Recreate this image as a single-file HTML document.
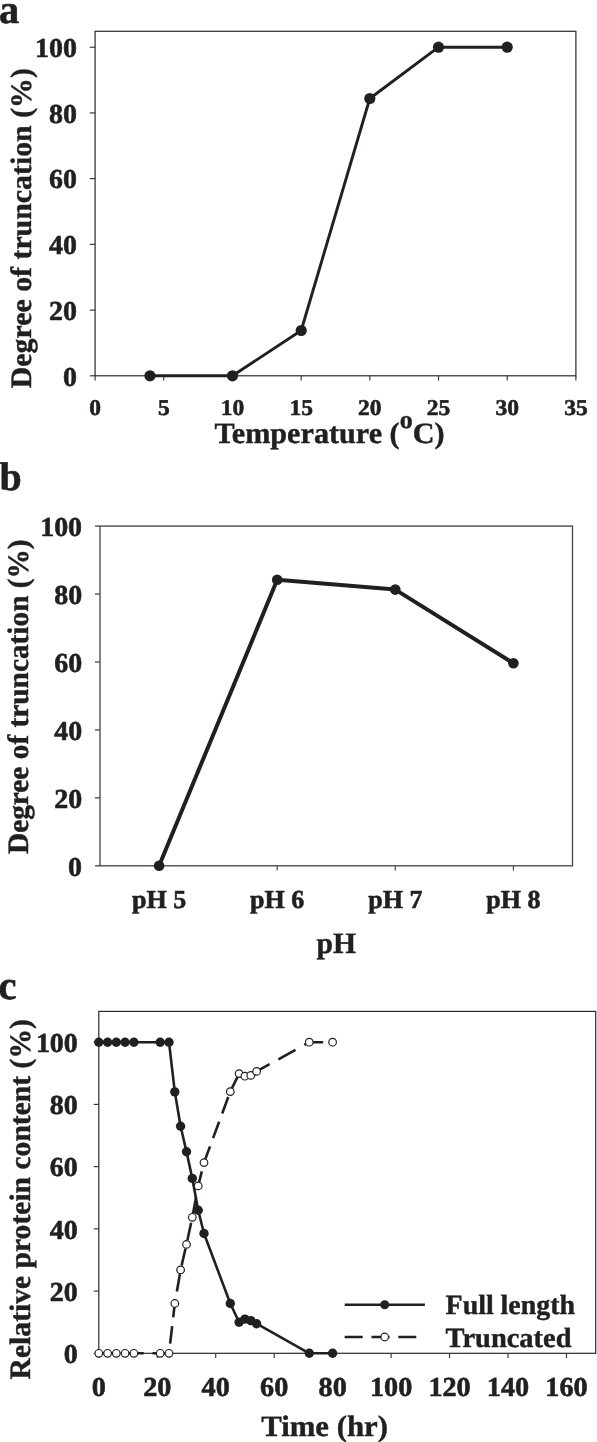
<!DOCTYPE html>
<html><head><meta charset="utf-8"><title>Figure</title>
<style>
html,body{margin:0;padding:0;background:#fff;}
svg{display:block;will-change:transform;font-family:"Liberation Serif",serif;font-weight:bold;fill:#231f20;}
text{stroke:#231f20;stroke-width:0.6px;stroke-linejoin:round;text-rendering:geometricPrecision;}
text.t{stroke-width:0.42px;}
</style></head>
<body>
<svg width="597" height="1442" viewBox="0 0 597 1442">
<rect x="0" y="0" width="597" height="1442" fill="#fff"/>
<!-- panel a -->
<rect x="95.1" y="31.3" width="480.8" height="344.5" fill="none" stroke="#2e2a2b" stroke-width="1.2"/>
<line x1="89.80" y1="375.80" x2="95.10" y2="375.80" stroke="#2e2a2b" stroke-width="1.1"/>
<text transform="translate(76.90,385.50) scale(1.0200,1)" font-size="27.4" text-anchor="end">0</text>
<line x1="89.80" y1="310.08" x2="95.10" y2="310.08" stroke="#2e2a2b" stroke-width="1.1"/>
<text transform="translate(76.90,319.78) scale(1.0200,1)" font-size="27.4" text-anchor="end">20</text>
<line x1="89.80" y1="244.36" x2="95.10" y2="244.36" stroke="#2e2a2b" stroke-width="1.1"/>
<text transform="translate(76.90,254.06) scale(1.0200,1)" font-size="27.4" text-anchor="end">40</text>
<line x1="89.80" y1="178.64" x2="95.10" y2="178.64" stroke="#2e2a2b" stroke-width="1.1"/>
<text transform="translate(76.90,188.34) scale(1.0200,1)" font-size="27.4" text-anchor="end">60</text>
<line x1="89.80" y1="112.92" x2="95.10" y2="112.92" stroke="#2e2a2b" stroke-width="1.1"/>
<text transform="translate(76.90,122.62) scale(1.0200,1)" font-size="27.4" text-anchor="end">80</text>
<line x1="89.80" y1="47.20" x2="95.10" y2="47.20" stroke="#2e2a2b" stroke-width="1.1"/>
<text transform="translate(76.90,56.90) scale(1.0200,1)" font-size="27.4" text-anchor="end">100</text>
<line x1="95.10" y1="375.80" x2="95.10" y2="380.60" stroke="#2e2a2b" stroke-width="1.1"/>
<text transform="translate(95.10,415.00) scale(1.0500,1)" font-size="22.4" text-anchor="middle">0</text>
<line x1="163.79" y1="375.80" x2="163.79" y2="380.60" stroke="#2e2a2b" stroke-width="1.1"/>
<text transform="translate(163.79,415.00) scale(1.0500,1)" font-size="22.4" text-anchor="middle">5</text>
<line x1="232.47" y1="375.80" x2="232.47" y2="380.60" stroke="#2e2a2b" stroke-width="1.1"/>
<text transform="translate(232.47,415.00) scale(1.0500,1)" font-size="22.4" text-anchor="middle">10</text>
<line x1="301.16" y1="375.80" x2="301.16" y2="380.60" stroke="#2e2a2b" stroke-width="1.1"/>
<text transform="translate(301.16,415.00) scale(1.0500,1)" font-size="22.4" text-anchor="middle">15</text>
<line x1="369.84" y1="375.80" x2="369.84" y2="380.60" stroke="#2e2a2b" stroke-width="1.1"/>
<text transform="translate(369.84,415.00) scale(1.0500,1)" font-size="22.4" text-anchor="middle">20</text>
<line x1="438.53" y1="375.80" x2="438.53" y2="380.60" stroke="#2e2a2b" stroke-width="1.1"/>
<text transform="translate(438.53,415.00) scale(1.0500,1)" font-size="22.4" text-anchor="middle">25</text>
<line x1="507.21" y1="375.80" x2="507.21" y2="380.60" stroke="#2e2a2b" stroke-width="1.1"/>
<text transform="translate(507.21,415.00) scale(1.0500,1)" font-size="22.4" text-anchor="middle">30</text>
<line x1="575.90" y1="375.80" x2="575.90" y2="380.60" stroke="#2e2a2b" stroke-width="1.1"/>
<text transform="translate(575.90,415.00) scale(1.0500,1)" font-size="22.4" text-anchor="middle">35</text>
<polyline fill="none" stroke="#231f20" stroke-width="2.9" stroke-linejoin="round" points="150.0,375.8 232.5,375.8 301.2,330.5 369.8,98.5 438.5,47.2 507.2,47.2"/>
<circle cx="150.0" cy="375.8" r="5.6" fill="#231f20"/>
<circle cx="232.5" cy="375.8" r="5.6" fill="#231f20"/>
<circle cx="301.2" cy="330.5" r="5.6" fill="#231f20"/>
<circle cx="369.8" cy="98.5" r="5.6" fill="#231f20"/>
<circle cx="438.5" cy="47.2" r="5.6" fill="#231f20"/>
<circle cx="507.2" cy="47.2" r="5.6" fill="#231f20"/>
<text transform="translate(-1.00,22.70) scale(1.0000,1)" font-size="40.5" text-anchor="start">a</text>
<text transform="translate(30.80,388.20) rotate(-90) scale(1.0080,1)" font-size="29.6" class="t">Degree of truncation (%)</text>
<text transform="translate(214.4,443.4) scale(1.0200,1)" font-size="29.6" class="t">Temperature (<tspan font-size="25.5" dy="-15.6">o</tspan><tspan dy="15.6">C)</tspan></text>
<!-- panel b -->
<rect x="100.0" y="526.1" width="472.5" height="339.7" fill="none" stroke="#4a4647" stroke-width="1.35"/>
<line x1="95.00" y1="865.80" x2="100.00" y2="865.80" stroke="#4a4647" stroke-width="1.3"/>
<text transform="translate(82.10,875.50) scale(1.0200,1)" font-size="27.4" text-anchor="end">0</text>
<line x1="95.00" y1="797.86" x2="100.00" y2="797.86" stroke="#4a4647" stroke-width="1.3"/>
<text transform="translate(82.10,807.56) scale(1.0200,1)" font-size="27.4" text-anchor="end">20</text>
<line x1="95.00" y1="729.92" x2="100.00" y2="729.92" stroke="#4a4647" stroke-width="1.3"/>
<text transform="translate(82.10,739.62) scale(1.0200,1)" font-size="27.4" text-anchor="end">40</text>
<line x1="95.00" y1="661.98" x2="100.00" y2="661.98" stroke="#4a4647" stroke-width="1.3"/>
<text transform="translate(82.10,671.68) scale(1.0200,1)" font-size="27.4" text-anchor="end">60</text>
<line x1="95.00" y1="594.04" x2="100.00" y2="594.04" stroke="#4a4647" stroke-width="1.3"/>
<text transform="translate(82.10,603.74) scale(1.0200,1)" font-size="27.4" text-anchor="end">80</text>
<line x1="95.00" y1="526.10" x2="100.00" y2="526.10" stroke="#4a4647" stroke-width="1.3"/>
<text transform="translate(82.10,535.80) scale(1.0200,1)" font-size="27.4" text-anchor="end">100</text>
<line x1="159.06" y1="865.80" x2="159.06" y2="870.60" stroke="#4a4647" stroke-width="1.2"/>
<text transform="translate(159.06,908.20) scale(1.0000,1)" font-size="26" text-anchor="middle">pH 5</text>
<line x1="277.19" y1="865.80" x2="277.19" y2="870.60" stroke="#4a4647" stroke-width="1.2"/>
<text transform="translate(277.19,908.20) scale(1.0000,1)" font-size="26" text-anchor="middle">pH 6</text>
<line x1="395.31" y1="865.80" x2="395.31" y2="870.60" stroke="#4a4647" stroke-width="1.2"/>
<text transform="translate(395.31,908.20) scale(1.0000,1)" font-size="26" text-anchor="middle">pH 7</text>
<line x1="513.44" y1="865.80" x2="513.44" y2="870.60" stroke="#4a4647" stroke-width="1.2"/>
<text transform="translate(513.44,908.20) scale(1.0000,1)" font-size="26" text-anchor="middle">pH 8</text>
<polyline fill="none" stroke="#231f20" stroke-width="4.0" stroke-linejoin="round" points="159.1,865.8 277.2,579.8 395.3,589.6 513.4,663.3"/>
<circle cx="159.1" cy="865.8" r="5.3" fill="#231f20"/>
<circle cx="277.2" cy="579.8" r="5.3" fill="#231f20"/>
<circle cx="395.3" cy="589.6" r="5.3" fill="#231f20"/>
<circle cx="513.4" cy="663.3" r="5.3" fill="#231f20"/>
<text transform="translate(-0.40,490.00) scale(1.0000,1)" font-size="40" text-anchor="start">b</text>
<text transform="translate(27.80,854.00) rotate(-90) scale(0.9910,1)" font-size="29.6" class="t">Degree of truncation (%)</text>
<text transform="translate(336.20,952.80) scale(1.0000,1)" font-size="29.6" text-anchor="middle" class="t">pH</text>
<!-- panel c -->
<rect x="98.8" y="1011.4" width="496.9" height="341.9" fill="none" stroke="#2e2a2b" stroke-width="1.2"/>
<line x1="93.70" y1="1353.30" x2="98.80" y2="1353.30" stroke="#2e2a2b" stroke-width="1.1"/>
<text transform="translate(77.80,1363.00) scale(1.0200,1)" font-size="27.4" text-anchor="end">0</text>
<line x1="93.70" y1="1291.07" x2="98.80" y2="1291.07" stroke="#2e2a2b" stroke-width="1.1"/>
<text transform="translate(77.80,1300.77) scale(1.0200,1)" font-size="27.4" text-anchor="end">20</text>
<line x1="93.70" y1="1228.84" x2="98.80" y2="1228.84" stroke="#2e2a2b" stroke-width="1.1"/>
<text transform="translate(77.80,1238.54) scale(1.0200,1)" font-size="27.4" text-anchor="end">40</text>
<line x1="93.70" y1="1166.61" x2="98.80" y2="1166.61" stroke="#2e2a2b" stroke-width="1.1"/>
<text transform="translate(77.80,1176.31) scale(1.0200,1)" font-size="27.4" text-anchor="end">60</text>
<line x1="93.70" y1="1104.38" x2="98.80" y2="1104.38" stroke="#2e2a2b" stroke-width="1.1"/>
<text transform="translate(77.80,1114.08) scale(1.0200,1)" font-size="27.4" text-anchor="end">80</text>
<line x1="93.70" y1="1042.15" x2="98.80" y2="1042.15" stroke="#2e2a2b" stroke-width="1.1"/>
<text transform="translate(77.80,1051.85) scale(1.0200,1)" font-size="27.4" text-anchor="end">100</text>
<line x1="98.80" y1="1353.30" x2="98.80" y2="1358.10" stroke="#2e2a2b" stroke-width="1.1"/>
<text transform="translate(98.80,1395.60) scale(1.0300,1)" font-size="27.4" text-anchor="middle">0</text>
<line x1="157.26" y1="1353.30" x2="157.26" y2="1358.10" stroke="#2e2a2b" stroke-width="1.1"/>
<text transform="translate(157.26,1395.60) scale(1.0300,1)" font-size="27.4" text-anchor="middle">20</text>
<line x1="215.72" y1="1353.30" x2="215.72" y2="1358.10" stroke="#2e2a2b" stroke-width="1.1"/>
<text transform="translate(215.72,1395.60) scale(1.0300,1)" font-size="27.4" text-anchor="middle">40</text>
<line x1="274.18" y1="1353.30" x2="274.18" y2="1358.10" stroke="#2e2a2b" stroke-width="1.1"/>
<text transform="translate(274.18,1395.60) scale(1.0300,1)" font-size="27.4" text-anchor="middle">60</text>
<line x1="332.64" y1="1353.30" x2="332.64" y2="1358.10" stroke="#2e2a2b" stroke-width="1.1"/>
<text transform="translate(332.64,1395.60) scale(1.0300,1)" font-size="27.4" text-anchor="middle">80</text>
<line x1="391.09" y1="1353.30" x2="391.09" y2="1358.10" stroke="#2e2a2b" stroke-width="1.1"/>
<text transform="translate(391.09,1395.60) scale(1.0300,1)" font-size="27.4" text-anchor="middle">100</text>
<line x1="449.55" y1="1353.30" x2="449.55" y2="1358.10" stroke="#2e2a2b" stroke-width="1.1"/>
<text transform="translate(449.55,1395.60) scale(1.0300,1)" font-size="27.4" text-anchor="middle">120</text>
<line x1="508.01" y1="1353.30" x2="508.01" y2="1358.10" stroke="#2e2a2b" stroke-width="1.1"/>
<text transform="translate(508.01,1395.60) scale(1.0300,1)" font-size="27.4" text-anchor="middle">140</text>
<line x1="566.47" y1="1353.30" x2="566.47" y2="1358.10" stroke="#2e2a2b" stroke-width="1.1"/>
<text transform="translate(566.47,1395.60) scale(1.0300,1)" font-size="27.4" text-anchor="middle">160</text>
<polyline fill="none" stroke="#231f20" stroke-width="2.6" stroke-linejoin="round" stroke-dasharray="17.5 8.8" stroke-dashoffset="-1.1" points="98.8,1353.3 107.6,1353.3 116.3,1353.3 125.1,1353.3 133.9,1353.3 160.2,1353.3 169.0,1353.3 174.8,1303.5 180.6,1269.9 186.5,1244.4 192.3,1217.3 198.2,1185.9 204.0,1162.6 230.3,1091.6 239.1,1073.6 244.9,1076.2 250.8,1075.4 256.6,1071.4"/>
<polyline fill="none" stroke="#231f20" stroke-width="2.6" stroke-linejoin="round" stroke-dasharray="19.6 10" stroke-dashoffset="4.7" points="256.6,1071.4 309.3,1042.2 332.6,1042.2"/>
<polyline fill="none" stroke="#231f20" stroke-width="2.6" stroke-linejoin="round" points="98.8,1042.2 107.6,1042.2 116.3,1042.2 125.1,1042.2 133.9,1042.2 160.2,1042.2 169.0,1042.2 174.8,1091.9 180.6,1126.2 186.5,1151.7 192.3,1178.4 198.2,1210.2 204.0,1233.5 230.3,1303.5 239.1,1322.2 244.9,1319.1 250.8,1320.6 256.6,1323.7 309.3,1353.3 332.6,1353.3"/>
<circle cx="98.8" cy="1042.2" r="4.7" fill="#231f20"/>
<circle cx="107.6" cy="1042.2" r="4.7" fill="#231f20"/>
<circle cx="116.3" cy="1042.2" r="4.7" fill="#231f20"/>
<circle cx="125.1" cy="1042.2" r="4.7" fill="#231f20"/>
<circle cx="133.9" cy="1042.2" r="4.7" fill="#231f20"/>
<circle cx="160.2" cy="1042.2" r="4.7" fill="#231f20"/>
<circle cx="169.0" cy="1042.2" r="4.7" fill="#231f20"/>
<circle cx="174.8" cy="1091.9" r="4.7" fill="#231f20"/>
<circle cx="180.6" cy="1126.2" r="4.7" fill="#231f20"/>
<circle cx="186.5" cy="1151.7" r="4.7" fill="#231f20"/>
<circle cx="192.3" cy="1178.4" r="4.7" fill="#231f20"/>
<circle cx="198.2" cy="1210.2" r="4.7" fill="#231f20"/>
<circle cx="204.0" cy="1233.5" r="4.7" fill="#231f20"/>
<circle cx="230.3" cy="1303.5" r="4.7" fill="#231f20"/>
<circle cx="239.1" cy="1322.2" r="4.7" fill="#231f20"/>
<circle cx="244.9" cy="1319.1" r="4.7" fill="#231f20"/>
<circle cx="250.8" cy="1320.6" r="4.7" fill="#231f20"/>
<circle cx="256.6" cy="1323.7" r="4.7" fill="#231f20"/>
<circle cx="309.3" cy="1353.3" r="4.7" fill="#231f20"/>
<circle cx="332.6" cy="1353.3" r="4.7" fill="#231f20"/>
<circle cx="98.8" cy="1353.3" r="3.8" fill="#fff" stroke="#231f20" stroke-width="1.2"/>
<circle cx="107.6" cy="1353.3" r="3.8" fill="#fff" stroke="#231f20" stroke-width="1.2"/>
<circle cx="116.3" cy="1353.3" r="3.8" fill="#fff" stroke="#231f20" stroke-width="1.2"/>
<circle cx="125.1" cy="1353.3" r="3.8" fill="#fff" stroke="#231f20" stroke-width="1.2"/>
<circle cx="133.9" cy="1353.3" r="3.8" fill="#fff" stroke="#231f20" stroke-width="1.2"/>
<circle cx="160.2" cy="1353.3" r="3.8" fill="#fff" stroke="#231f20" stroke-width="1.2"/>
<circle cx="169.0" cy="1353.3" r="3.8" fill="#fff" stroke="#231f20" stroke-width="1.2"/>
<circle cx="174.8" cy="1303.5" r="3.8" fill="#fff" stroke="#231f20" stroke-width="1.2"/>
<circle cx="180.6" cy="1269.9" r="3.8" fill="#fff" stroke="#231f20" stroke-width="1.2"/>
<circle cx="186.5" cy="1244.4" r="3.8" fill="#fff" stroke="#231f20" stroke-width="1.2"/>
<circle cx="192.3" cy="1217.3" r="3.8" fill="#fff" stroke="#231f20" stroke-width="1.2"/>
<circle cx="198.2" cy="1185.9" r="3.8" fill="#fff" stroke="#231f20" stroke-width="1.2"/>
<circle cx="204.0" cy="1162.6" r="3.8" fill="#fff" stroke="#231f20" stroke-width="1.2"/>
<circle cx="230.3" cy="1091.6" r="3.8" fill="#fff" stroke="#231f20" stroke-width="1.2"/>
<circle cx="239.1" cy="1073.6" r="3.8" fill="#fff" stroke="#231f20" stroke-width="1.2"/>
<circle cx="244.9" cy="1076.2" r="3.8" fill="#fff" stroke="#231f20" stroke-width="1.2"/>
<circle cx="250.8" cy="1075.4" r="3.8" fill="#fff" stroke="#231f20" stroke-width="1.2"/>
<circle cx="256.6" cy="1071.4" r="3.8" fill="#fff" stroke="#231f20" stroke-width="1.2"/>
<circle cx="309.3" cy="1042.2" r="3.8" fill="#fff" stroke="#231f20" stroke-width="1.2"/>
<circle cx="332.6" cy="1042.2" r="3.8" fill="#fff" stroke="#231f20" stroke-width="1.2"/>
<text transform="translate(-1.60,998.90) scale(1.0000,1)" font-size="40.5" text-anchor="start">c</text>
<text transform="translate(29.60,1379.40) rotate(-90) scale(1.0000,1)" font-size="29.6" class="t">Relative protein content (%)</text>
<text transform="translate(261.20,1435.50) scale(1.0400,1)" font-size="29.6" text-anchor="start" class="t">Time (hr)</text>
<line x1="344.70" y1="1304.70" x2="424.90" y2="1304.70" stroke="#231f20" stroke-width="2.6"/>
<circle cx="384.7" cy="1304.7" r="4.5" fill="#231f20"/>
<line x1="344.70" y1="1337.00" x2="424.90" y2="1337.00" stroke="#231f20" stroke-width="2.6" stroke-dasharray="18 8.8"/>
<circle cx="384.7" cy="1337.0" r="3.8" fill="#fff" stroke="#231f20" stroke-width="1.2"/>
<text transform="translate(445.60,1313.80) scale(1.0000,1)" font-size="27.9" text-anchor="start" class="t">Full length</text>
<text transform="translate(445.60,1346.60) scale(1.0200,1)" font-size="27.9" text-anchor="start" class="t">Truncated</text>
</svg>
</body></html>
